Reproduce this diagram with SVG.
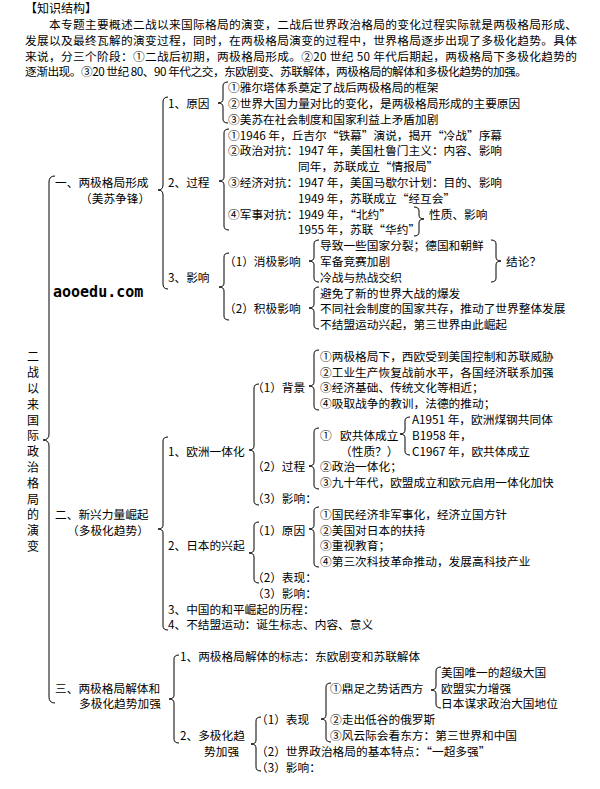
<svg xmlns="http://www.w3.org/2000/svg" width="600" height="789" viewBox="0 0 600 789">
<style>
text{font-family:"Noto Sans CJK SC","Noto Sans CJK JP",sans-serif;font-size:11.7px;fill:#000;dominant-baseline:central}
.hd{font-size:12px}
.wm{font-family:"DejaVu Sans Mono","Liberation Mono",monospace;font-size:15px;font-weight:bold}
.br{fill:none;stroke:#000;stroke-width:1}
</style>
<rect width="600" height="789" fill="#fff"/>
<g id="intro">
<text class="hd" x="25" y="7.7">【知识结构】</text>
<text x="49" y="23.5" textLength="528" lengthAdjust="spacing">本专题主要概述二战以来国际格局的演变，二战后世界政治格局的变化过程实际就是两极格局形成、</text>
<text x="25" y="39.3" textLength="552" lengthAdjust="spacing">发展以及最终瓦解的演变过程，同时，在两极格局演变的过程中，世界格局逐步出现了多极化趋势。具体</text>
<text x="25" y="55.1" textLength="552" lengthAdjust="spacing">来说，分三个阶段：①二战后初期，两极格局形成。②20 世纪 50 年代后期起，两极格局下多极化趋势的</text>
<text x="25" y="70.9" textLength="502" lengthAdjust="spacing">逐渐出现。③20 世纪 80、90 年代之交，东欧剧变、苏联解体，两极格局的解体和多极化趋势的加强。</text>
</g>
<g id="connectors">
<path class="br" d="M55 176 Q49 176 49 182 L49 434 Q49 440 43 440 Q49 440 49 446 L49 697 Q49 703 55 703"/>
<path class="br" d="M168 97 Q163 97 163 102 L163 185 Q163 190 158 190 Q163 190 163 195 L163 284 Q163 289 168 289"/>
<path class="br" d="M228 82 Q223 82 223 86 L223 99 Q223 103 218 103 Q223 103 223 107 L223 119 Q223 123 228 123"/>
<path class="br" d="M229 129 Q224 129 224 133 L224 177 Q224 181 219 181 Q224 181 224 185 L224 226 Q224 230 229 230"/>
<path class="br" d="M229 253 Q224 253 224 257 L224 283 Q224 287 219 287 Q224 287 224 291 L224 316 Q224 320 229 320"/>
<path class="br" d="M319 240 Q314 240 314 244 L314 257 Q314 261 309 261 Q314 261 314 265 L314 278 Q314 282 319 282"/>
<path class="br" d="M319 287 Q314 287 314 291 L314 304 Q314 308 309 308 Q314 308 314 312 L314 325 Q314 329 319 329"/>
<path class="br" d="M491 240 Q496 240 496 244 L496 257 Q496 261 501 261 Q496 261 496 265 L496 278 Q496 282 491 282"/>
<path class="br" d="M414 207 Q419 207 419 211 L419 215 Q419 219 424 219 Q419 219 419 223 L419 232 Q419 236 414 236"/>
<path class="br" d="M168 437 Q163 437 163 441 L163 525 Q163 529 158 529 Q163 529 163 533 L163 626 Q163 630 168 630"/>
<path class="br" d="M259 384 Q254 384 254 388 L254 446 Q254 450 249 450 Q254 450 254 454 L254 501 Q254 505 259 505"/>
<path class="br" d="M319 350 Q314 350 314 354 L314 382 Q314 386 309 386 Q314 386 314 390 L314 406 Q314 410 319 410"/>
<path class="br" d="M319 428 Q314 428 314 432 L314 462 Q314 466 309 466 Q314 466 314 470 L314 485 Q314 489 319 489"/>
<path class="br" d="M410 417 Q405 417 405 421 L405 430 Q405 434 400 434 Q405 434 405 438 L405 451 Q405 455 410 455"/>
<path class="br" d="M259 522 Q254 522 254 526 L254 549 Q254 553 249 553 Q254 553 254 557 L254 579 Q254 583 259 583"/>
<path class="br" d="M319 507 Q314 507 314 511 L314 525 Q314 529 309 529 Q314 529 314 533 L314 563 Q314 567 319 567"/>
<path class="br" d="M179 655 Q174 655 174 659 L174 695 Q174 699 169 699 Q174 699 174 703 L174 739 Q174 743 179 743"/>
<path class="br" d="M261 717 Q256 717 256 721 L256 740 Q256 744 251 744 Q256 744 256 748 L256 767 Q256 771 261 771"/>
<path class="br" d="M331 683 Q326 683 326 687 L326 715 Q326 719 321 719 Q326 719 326 723 L326 738 Q326 742 331 742"/>
<path class="br" d="M441 667 Q436 667 436 671 L436 686 Q436 690 431 690 Q436 690 436 694 L436 704 Q436 708 441 708"/>
</g>
<g id="root">
<text class="hd" text-anchor="middle"><tspan x="33" y="355.3">二</tspan><tspan x="33" y="371.1">战</tspan><tspan x="33" y="386.9">以</tspan><tspan x="33" y="402.7">来</tspan><tspan x="33" y="418.5">国</tspan><tspan x="33" y="434.3">际</tspan><tspan x="33" y="450.1">政</tspan><tspan x="33" y="465.9">治</tspan><tspan x="33" y="481.7">格</tspan><tspan x="33" y="497.5">局</tspan><tspan x="33" y="513.3">的</tspan><tspan x="33" y="529.1">演</tspan><tspan x="33" y="544.9">变</tspan></text>
</g>
<g id="watermark"><text class="wm" x="53" y="292.1">aooedu.com</text></g>
<g id="s1">
<text x="55" y="181.5">一、两极格局形成</text>
<text x="80" y="197.3">（美苏争锋）</text>
</g>
<g id="s1-1">
<text x="168" y="102.5">1、原因</text>
<text x="228" y="86.7">①雅尔塔体系奠定了战后两极格局的框架</text>
<text x="228" y="102.5">②世界大国力量对比的变化，是两极格局形成的主要原因</text>
<text x="228" y="118.3">③美苏在社会制度和国家利益上矛盾加剧</text>
</g>
<g id="s1-2">
<text x="168" y="181.5">2、过程</text>
<text x="228" y="134.1">①1946 年，丘吉尔“铁幕”演说，揭开“冷战”序幕</text>
<text x="228" y="149.9">②政治对抗：1947 年，美国杜鲁门主义：内容、影响</text>
<text x="298" y="165.7">同年，苏联成立“情报局”</text>
<text x="228" y="181.5">③经济对抗：1947 年，美国马歇尔计划：目的、影响</text>
<text x="298" y="197.3">1949 年，苏联成立“经互会”</text>
<text x="228" y="213.1">④军事对抗：1949 年，“北约”</text>
<text x="298" y="228.9">1955 年，苏联“华约”</text>
<text x="429" y="213.1">性质、影响</text>
</g>
<g id="s1-3">
<text x="168" y="276.3">3、影响</text>
<text x="224" y="260.5">（1）消极影响</text>
<text x="320" y="244.7">导致一些国家分裂；德国和朝鲜</text>
<text x="320" y="260.5">军备竞赛加剧</text>
<text x="320" y="276.3">冷战与热战交织</text>
<text x="506" y="260.5">结论？</text>
<text x="224" y="307.9">（2）积极影响</text>
<text x="320" y="292.1">避免了新的世界大战的爆发</text>
<text x="320" y="307.9">不同社会制度的国家共存，推动了世界整体发展</text>
<text x="320" y="323.7">不结盟运动兴起，第三世界由此崛起</text>
</g>
<g id="s2">
<text x="55" y="513.3">二、新兴力量崛起</text>
<text x="67" y="529.1">（多极化趋势）</text>
</g>
<g id="s2-1">
<text x="168" y="450.1">1、欧洲一体化</text>
<text x="252" y="386.9">（1）背景</text>
<text x="320" y="355.3">①两极格局下，西欧受到美国控制和苏联威胁</text>
<text x="320" y="371.1">②工业生产恢复战前水平，各国经济联系加强</text>
<text x="320" y="386.9">③经济基础、传统文化等相近；</text>
<text x="320" y="402.7">④吸取战争的教训，法德的推动；</text>
<text x="252" y="465.9">（2）过程</text>
<text x="320" y="434.3">①</text>
<text x="340" y="434.3">欧共体成立</text>
<text x="340" y="450.1">（性质？）</text>
<text x="412" y="418.5">A1951 年，欧洲煤钢共同体</text>
<text x="412" y="434.3">B1958 年，</text>
<text x="412" y="450.1">C1967 年，欧共体成立</text>
<text x="320" y="465.9">②政治一体化；</text>
<text x="320" y="481.7">③九十年代，欧盟成立和欧元启用一体化加快</text>
<text x="252" y="497.5">（3）影响：</text>
</g>
<g id="s2-2">
<text x="168" y="544.9">2、日本的兴起</text>
<text x="252" y="529.1">（1）原因</text>
<text x="320" y="513.3">①国民经济非军事化，经济立国方针</text>
<text x="320" y="529.1">②美国对日本的扶持</text>
<text x="320" y="544.9">③重视教育；</text>
<text x="320" y="560.7">④第三次科技革命推动，发展高科技产业</text>
<text x="252" y="576.5">（2）表现：</text>
<text x="252" y="592.3">（3）影响：</text>
</g>
<g id="s2-3"><text x="168" y="608.1">3、中国的和平崛起的历程：</text></g>
<g id="s2-4"><text x="168" y="623.9">4、不结盟运动：诞生标志、内容、意义</text></g>
<g id="s3">
<text x="55" y="687.1">三、两极格局解体和</text>
<text x="79" y="702.9">多极化趋势加强</text>
</g>
<g id="s3-1"><text x="180" y="655.5">1、两极格局解体的标志：东欧剧变和苏联解体</text></g>
<g id="s3-2">
<text x="180" y="734.5">2、多极化趋</text>
<text x="204" y="750.3">势加强</text>
<text x="256" y="718.7">（1）表现</text>
<text x="330" y="687.1">①鼎足之势话西方</text>
<text x="441" y="671.3">美国唯一的超级大国</text>
<text x="441" y="687.1">欧盟实力增强</text>
<text x="441" y="702.9">日本谋求政治大国地位</text>
<text x="330" y="718.7">②走出低谷的俄罗斯</text>
<text x="330" y="734.5">③风云际会看东方：第三世界和中国</text>
<text x="256" y="750.3">（2）世界政治格局的基本特点：“一超多强”</text>
<text x="256" y="766.1">（3）影响：</text>
</g>
</svg>
